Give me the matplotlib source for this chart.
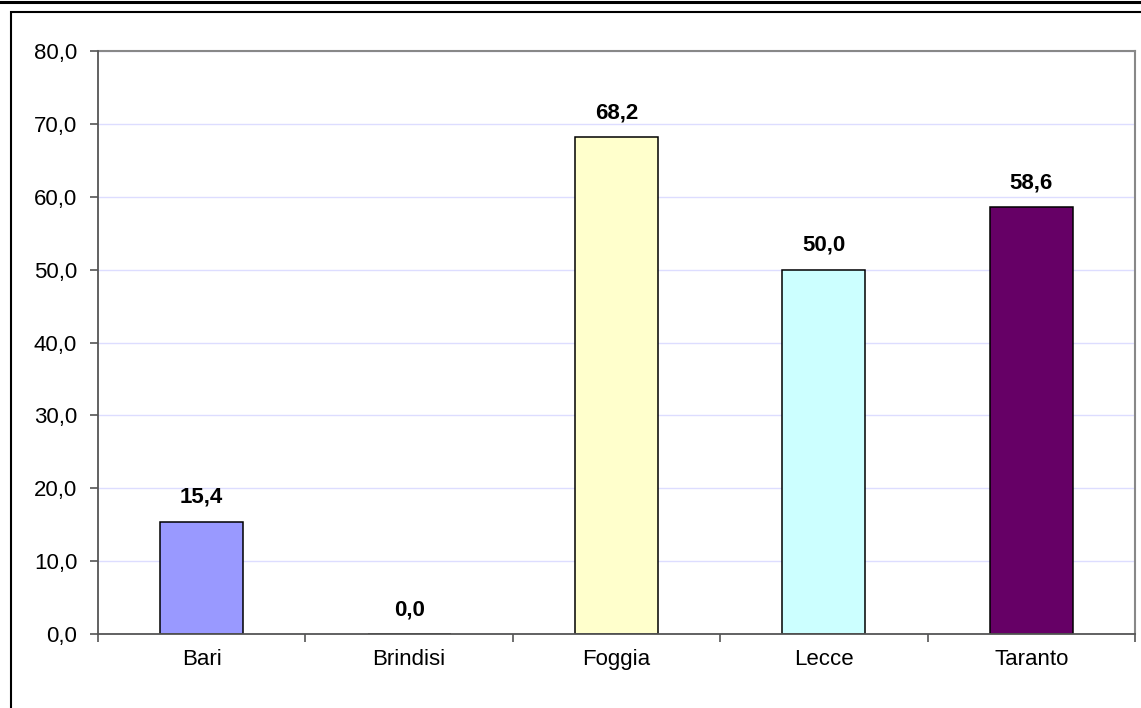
import matplotlib.pyplot as plt
from matplotlib.lines import Line2D
from matplotlib.patches import Rectangle
from matplotlib.ticker import FuncFormatter

provinces = ['Bari', 'Brindisi', 'Foggia', 'Lecce', 'Taranto']
values = [15.4, 0.0, 68.2, 50.0, 58.6]
colors = ['#9999FF', '#993366', '#FFFFCC', '#CCFFFF', '#660066']

plt.rcParams['font.family'] = ['Liberation Sans', 'DejaVu Sans']

fig = plt.figure(figsize=(11.41, 7.08), dpi=100)
fig.patch.set_facecolor('white')

# outer frame: heavy rule along the top, box around the chart
fig.add_artist(Line2D([0, 1], [1 - 1.5 / 708, 1 - 1.5 / 708], color='black', lw=2.2))
fig.add_artist(Rectangle((10.5 / 1141, -0.01), 1.2, 1 - 11.5 / 708 + 0.01,
                         fill=False, edgecolor='black', lw=1.5,
                         transform=fig.transFigure))

ax = fig.add_axes([98 / 1141, 1 - 634 / 708, (1135 - 98) / 1141, (634 - 51) / 708])

x = range(len(provinces))
bars = ax.bar(x, values, width=0.4, color=colors, edgecolor='black', linewidth=1.1, zorder=2)

for xi, v in zip(x, values):
    ax.annotate(f'{v:.1f}'.replace('.', ','), (xi, v), xytext=(0, 10),
                textcoords='offset points', ha='center', va='bottom',
                fontsize=16, fontweight='bold')

ax.set_xlim(-0.5, len(provinces) - 0.5)
ax.set_ylim(0, 80)
ax.set_yticks(range(0, 81, 10))
ax.yaxis.set_major_formatter(FuncFormatter(lambda v, p: f'{v:.1f}'.replace('.', ',')))
ax.grid(axis='y', color='#DDDDFF', lw=1.0, zorder=0)
ax.set_axisbelow(True)

ax.set_xticks(list(x))
ax.set_xticklabels(provinces)
ax.set_xticks([i + 0.5 for i in range(-1, len(provinces))], minor=True)
ax.tick_params(axis='x', which='major', length=0, pad=11, labelsize=16)
ax.tick_params(axis='x', which='minor', length=6, width=1.2, color='#555555', direction='out')
ax.tick_params(axis='y', length=6, width=1.2, color='#555555', pad=9, labelsize=16)

for side in ['top', 'right']:
    ax.spines[side].set_color('#888888')
    ax.spines[side].set_linewidth(1.5)
for side in ['left', 'bottom']:
    ax.spines[side].set_color('#555555')
    ax.spines[side].set_linewidth(1.3)
    ax.spines[side].set_zorder(3)

fig.savefig('out.png', dpi=100)
